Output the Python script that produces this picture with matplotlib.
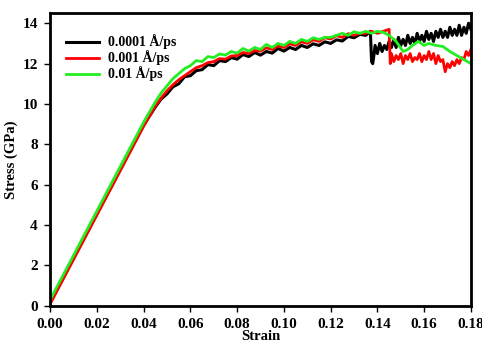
import matplotlib
matplotlib.use("Agg")
from matplotlib import pyplot as plt

# strain / stress
strain_0001 = [0.000, 0.005, 0.010, 0.015, 0.020, 0.025, 0.030, 0.035, 0.040,
               0.0425, 0.0450, 0.0475, 0.0500, 0.0525, 0.0550, 0.0575, 0.0600,
               0.0625, 0.0650, 0.0675, 0.0700, 0.0725, 0.0750, 0.0775, 0.0800,
               0.0825, 0.0850, 0.0875, 0.0900, 0.0925, 0.0950, 0.0975, 0.1000,
               0.1025, 0.1050, 0.1075, 0.1100, 0.1125, 0.1150, 0.1175, 0.1200,
               0.1225, 0.1250, 0.1275, 0.1300, 0.1325, 0.1350, 0.1370, 0.1375,
               0.1380, 0.1385,
               0.139, 0.140, 0.141, 0.142, 0.143, 0.144, 0.145, 0.146, 0.147,
               0.148, 0.149, 0.150, 0.151, 0.152, 0.153, 0.154, 0.155, 0.156,
               0.157, 0.158, 0.159, 0.160, 0.161, 0.162, 0.163, 0.164, 0.165,
               0.166, 0.167, 0.168, 0.169, 0.170, 0.171, 0.172, 0.173, 0.174,
               0.175, 0.176, 0.177, 0.178, 0.179, 0.180]
stress_0001 = [0.15, 1.25, 2.35, 3.45, 4.55, 5.65, 6.75, 7.85, 8.95,
               9.40, 9.85, 10.25, 10.50, 10.85, 11.00, 11.35, 11.40,
               11.65, 11.70, 11.95, 11.90, 12.15, 12.10, 12.30, 12.22,
               12.45, 12.35, 12.55, 12.42, 12.60, 12.52, 12.75, 12.62,
               12.80, 12.70, 12.90, 12.80, 12.98, 12.90, 13.08, 13.00,
               13.18, 13.12, 13.35, 13.28, 13.45, 13.40, 13.60, 12.10,
               12.00, 12.40,
               12.9, 12.5, 13.0, 12.6, 12.9, 12.7, 13.1, 12.8, 13.2,
               12.8, 13.3, 12.9, 13.2, 12.9, 13.4, 13.0, 13.3, 13.0,
               13.5, 13.1, 13.4, 13.1, 13.6, 13.2, 13.5, 13.1, 13.6,
               13.3, 13.7, 13.3, 13.6, 13.3, 13.8, 13.4, 13.7, 13.4,
               13.9, 13.4, 13.8, 13.5, 14.0, 13.7]

strain_001 = [0.000, 0.005, 0.010, 0.015, 0.020, 0.025, 0.030, 0.035, 0.040,
              0.0425, 0.0450, 0.0475, 0.0500, 0.0525, 0.0550, 0.0575, 0.0600,
              0.0625, 0.0650, 0.0675, 0.0700, 0.0725, 0.0750, 0.0775, 0.0800,
              0.0825, 0.0850, 0.0875, 0.0900, 0.0925, 0.0950, 0.0975, 0.1000,
              0.1025, 0.1050, 0.1075, 0.1100, 0.1125, 0.1150, 0.1175, 0.1200,
              0.1225, 0.1250, 0.1275, 0.1300, 0.1325, 0.1350, 0.1375, 0.1400,
              0.1425, 0.1450, 0.1455,
              0.146, 0.147, 0.148, 0.149, 0.150, 0.151, 0.152, 0.153, 0.154,
              0.155, 0.156, 0.157, 0.158, 0.159, 0.160, 0.161, 0.162, 0.163,
              0.164, 0.165, 0.166, 0.167, 0.168, 0.169, 0.170, 0.171, 0.172,
              0.173, 0.174, 0.175, 0.176, 0.177, 0.178, 0.179, 0.180]
stress_001 = [0.10, 1.20, 2.30, 3.40, 4.50, 5.60, 6.70, 7.80, 8.90,
              9.40, 9.90, 10.30, 10.65, 10.95, 11.20, 11.40, 11.60,
              11.80, 11.90, 12.05, 12.10, 12.25, 12.22, 12.38, 12.40,
              12.55, 12.50, 12.65, 12.62, 12.78, 12.70, 12.88, 12.80,
              12.98, 12.90, 13.08, 13.00, 13.18, 13.10, 13.28, 13.22,
              13.38, 13.30, 13.48, 13.40, 13.50, 13.50, 13.60, 13.50,
              13.60, 13.70, 12.00,
              12.5, 12.1, 12.4, 12.2, 12.5, 12.0, 12.4, 12.2, 12.5,
              12.1, 12.3, 12.2, 12.5, 12.1, 12.4, 12.2, 12.6, 12.2,
              12.5, 12.0, 12.4, 12.1, 12.2, 11.6, 12.0, 11.8, 12.1,
              11.9, 12.2, 12.0, 12.3, 12.2, 12.6, 12.4, 12.7]

strain_01 = [0.000, 0.005, 0.010, 0.015, 0.020, 0.025, 0.030, 0.035, 0.040,
             0.0425, 0.0450, 0.0475, 0.0500, 0.0525, 0.0550, 0.0575, 0.0600,
             0.0625, 0.0650, 0.0675, 0.0700, 0.0725, 0.0750, 0.0775, 0.0800,
             0.0825, 0.0850, 0.0875, 0.0900, 0.0925, 0.0950, 0.0975, 0.1000,
             0.1025, 0.1050, 0.1075, 0.1100, 0.1125, 0.1150, 0.1175, 0.1200,
             0.1225, 0.1250, 0.1275, 0.1300, 0.1325, 0.1350, 0.1375, 0.1400,
             0.1425, 0.1450, 0.1480, 0.1510, 0.1530, 0.1550, 0.1575, 0.1600,
             0.1620, 0.1650, 0.1680, 0.1710, 0.1740, 0.1770, 0.1800]
stress_01 = [0.30, 1.40, 2.50, 3.60, 4.70, 5.80, 6.90, 8.00, 9.10,
             9.60, 10.10, 10.55, 10.90, 11.25, 11.50, 11.75, 11.90,
             12.15, 12.10, 12.35, 12.30, 12.48, 12.42, 12.60, 12.52,
             12.75, 12.62, 12.80, 12.70, 12.95, 12.80, 13.00, 12.90,
             13.10, 13.00, 13.20, 13.10, 13.28, 13.20, 13.30, 13.30,
             13.40, 13.50, 13.40, 13.58, 13.50, 13.60, 13.50, 13.60,
             13.55, 13.40, 13.10, 12.60, 12.70, 12.90, 13.10, 12.90,
             13.00, 12.90, 12.85, 12.60, 12.40, 12.20, 12.00]

etiquetas = ["0.0001 Å/ps", "0.001 Å/ps", "0.01 Å/ps"]

plt.rcParams["font.family"] = ["Liberation Serif", "DejaVu Serif"]
plt.rcParams["font.weight"] = "bold"

fig = plt.figure(figsize=(4.82, 3.46), dpi=100)
ax = fig.add_axes([0.104, 0.116, 0.873, 0.846])

ax.plot(strain_0001, stress_0001, color="black", lw=2.2, label=etiquetas[0])
ax.plot(strain_001, stress_001, color="#ff0000", lw=2.0, label=etiquetas[1])
ax.plot(strain_01, stress_01, color="#22ee22", lw=2.0, label=etiquetas[2])

ax.set_xlim(0, 0.18)
ax.set_ylim(0, 14.5)
ax.set_xticks([0.00, 0.02, 0.04, 0.06, 0.08, 0.10, 0.12, 0.14, 0.16, 0.18])
ax.set_xticklabels(["0.00", "0.02", "0.04", "0.06", "0.08", "0.10",
                    "0.12", "0.14", "0.16", "0.18"])
ax.set_yticks([0, 2, 4, 6, 8, 10, 12, 14])
ax.tick_params(direction="out", length=4, width=1, labelsize=11, pad=5)
for lado in ax.spines.values():
    lado.set_linewidth(2)

ax.set_xlabel("Strain", fontsize=10.5, fontweight="bold", labelpad=-1)
ax.set_ylabel("Stress (GPa)", fontsize=10.5, fontweight="bold", labelpad=3)

ax.legend(loc="upper left", bbox_to_anchor=(0.015, 0.96), frameon=False,
          fontsize=10, handlelength=2.4, handletextpad=0.6,
          labelspacing=0.08, borderpad=0.2)

fig.savefig("out.png", dpi=100)
